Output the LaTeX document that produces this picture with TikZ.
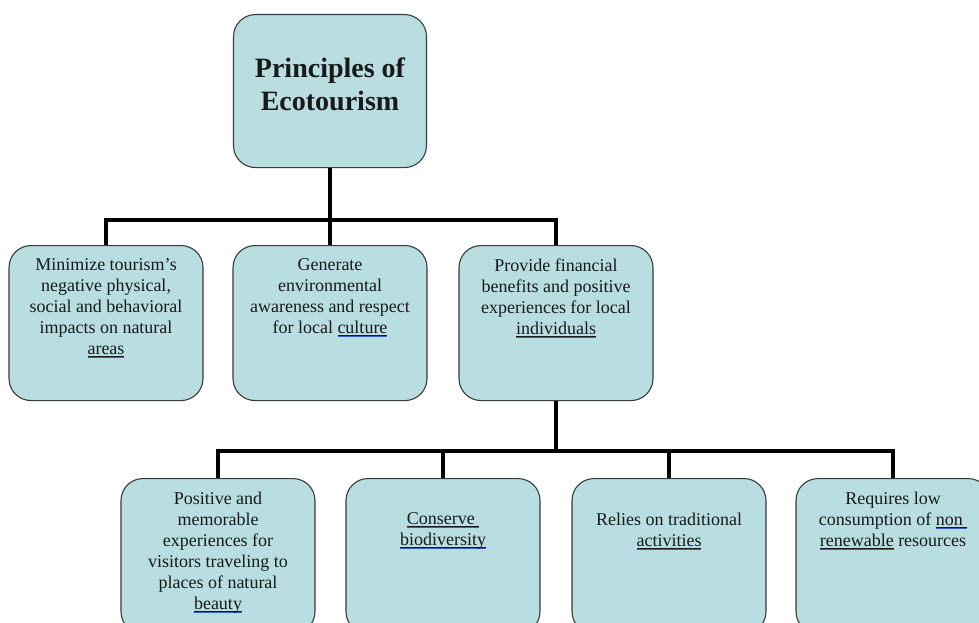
\documentclass[tikz,border=0pt]{standalone}
\usepackage{fontspec}
\setmainfont{Liberation Serif}
\definecolor{boxfill}{RGB}{185,222,226}
\definecolor{boxline}{RGB}{55,60,60}
\definecolor{lnkblue}{RGB}{55,95,200}
\newsavebox{\lnkbox}
\newcommand{\lnk}[1]{\leavevmode\sbox{\lnkbox}{#1}\rlap{\rule[-2.4pt]{\wd\lnkbox}{0.9pt}}\rlap{\textcolor{lnkblue}{\rule[-3.9pt]{\wd\lnkbox}{1.2pt}}}\usebox{\lnkbox}}
\newcommand{\boxtxt}[2][0pt]{\parbox[c][129pt][t]{190pt}{\centering\vspace*{#1}#2}}
\begin{document}
\begin{tikzpicture}[x=1pt,y=-1pt,
    principle/.style={draw=boxline,fill=boxfill,line width=1.1pt,rounded corners=22pt,
      inner xsep=2pt,inner ysep=13pt,anchor=north,font=\fontsize{18}{21}\selectfont,text=black!90},
    wire/.style={draw=black,line width=4.5pt}]
  \clip (0,0) rectangle (979,623);
  \fill[white] (0,0) rectangle (979,623);

  \node[principle] (eco) at (330,14) {\parbox[c][127pt][t]{189pt}{\centering\fontsize{28}{33}\selectfont\bfseries\vspace*{30pt}Principles of\\Ecotourism}};

  \node[principle] (minimize) at (106,245) {\boxtxt{Minimize tourism's\\negative physical,\\social and behavioral\\impacts on natural\\\lnk{areas}}};
  \node[principle] (generate) at (330,245) {\boxtxt{Generate\\environmental\\awareness and respect\\for local \lnk{culture}}};
  \node[principle] (provide) at (556,245) {\boxtxt{Provide financial\\benefits and positive\\experiences for local\\\lnk{individuals}}};

  \node[principle] (positive) at (218,478) {\boxtxt{Positive and\\memorable\\experiences for\\visitors traveling to\\places of natural\\\lnk{beauty}}};
  \node[principle] (conserve) at (443,478) {\boxtxt[21pt]{\lnk{Conserve~}\\\lnk{biodiversity}}};
  \node[principle] (relies) at (669,478) {\boxtxt[21pt]{Relies on traditional\\\lnk{activities}}};
  \node[principle] (requires) at (893,478) {\boxtxt{Requires low\\consumption of \lnk{non~}\\\lnk{renewable} resources}};

  \coordinate (forkA) at (330,220);
  \coordinate (forkB) at (556,451);

  \draw[wire] (eco.south) -- (generate.north);
  \draw[wire] (minimize.north) |- (forkA) -| (provide.north);
  \draw[wire] (provide.south) -- (forkB);
  \draw[wire] (positive.north) |- (forkB) -| (requires.north);
  \draw[wire] (conserve.north) -- (conserve.north |- forkB);
  \draw[wire] (relies.north) -- (relies.north |- forkB);
\end{tikzpicture}
\end{document}
